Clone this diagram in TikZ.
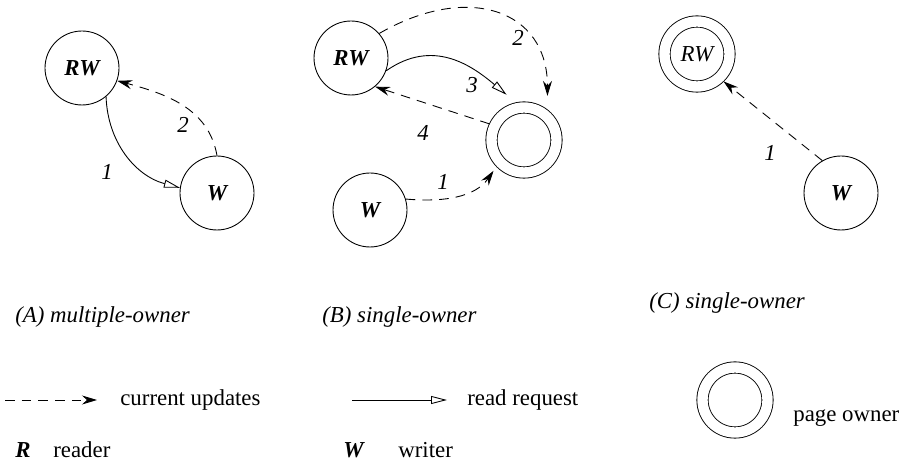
\documentclass[tikz,border=0pt]{standalone}
\usepackage{fontspec}
\setmainfont{Liberation Serif}
\usepackage{tikz}
\usetikzlibrary{arrows.meta,positioning}
\newcommand{\labfont}{\fontsize{13}{16}\selectfont}
\tikzset{
  site/.style={circle,draw,line width=0.5pt,minimum size=1.48cm,inner sep=0pt,font=\labfont\bfseries\itshape},
  owner/.style={circle,draw,line width=0.5pt,double,double distance=5.9pt,minimum size=1.3cm,inner sep=0pt,outer sep=3.2pt,font=\labfont\itshape},
  upd/.style={line width=0.5pt,dash pattern=on 5.5pt off 4pt,-{Stealth[length=3mm,width=1.8mm,inset=1mm]}},
  req/.style={line width=0.5pt,-{Triangle[open,length=3.2mm,width=1.6mm]}},
  num/.style={font=\labfont\itshape},
  captxt/.style={font=\labfont\itshape,anchor=west,inner sep=0pt},
  txt/.style={font=\labfont,anchor=west,inner sep=0pt}
}

\begin{document}
\begin{tikzpicture}[x=0.02cm,y=0.02cm]
\useasboundingbox (0,0) rectangle (903,463);
% (A) every site may own the page
\node[site] (rwA) at (82,395) {RW};
\node[site] (wA) at (217,270) {W};
\draw[req] (rwA.-50) to[out=-88,in=165] (wA.172);
\draw[upd] (wA.90) to[out=100,in=-15] (rwA.-20);
\node[num] at (107,291) {1};
\node[num] at (183,338) {2};
% (B) one owner, reads go through it
\node[site] (rwB) at (351,405) {RW};
\node[owner] (ownB) at (524,323) {};
\node[site] (wB) at (370,253) {W};
\draw[upd,shorten >=3pt] (wB.17) to[out=-5,in=-125] (ownB.-136);
\draw[upd,shorten >=8pt] (rwB.41) to[out=30,in=90,looseness=1.4] (ownB.52);
\draw[req,shorten >=7pt] (rwB.-20) to[out=35,in=140,looseness=1.1] (ownB.102);
\draw[upd] (ownB.155) -- (rwB.-50);
\node[num] at (443,281) {1};
\node[num] at (518,425) {2};
\node[num] at (472,378) {3};
\node[num] at (423,330) {4};
% (C) the reader-writer is the owner
\node[owner] (rwC) at (697,409) {RW};
\node[site] (wC) at (841,270) {W};
\draw[upd] (wC.120) -- (rwC.-46);
\node[num] at (770,310) {1};
% captions
\node[captxt] (capA) at (15,146) {(A) multiple-owner};
\node[captxt] (capB) at (322,146) {(B) single-owner};
\node[captxt] (capC) at (649,160) {(C) single-owner};
% legend
\coordinate (updS) at (5,63);
\coordinate (updE) at (97,63);
\draw[upd] (updS) -- (updE);
\node[txt] (updT) at (120,63) {current updates};
\coordinate (reqS) at (352,63);
\coordinate (reqE) at (447,63);
\draw[req] (reqS) -- (reqE);
\node[txt] (reqT) at (467,63) {read request};
\node[owner] (ownL) at (735,63) {};
\node[txt] (ownT) at (793,45) {page owner};
\node[txt,font=\labfont\bfseries\itshape] (keyR) at (15,13) {R};
\node[txt] (keyRT) at (53,13) {reader};
\node[txt,font=\labfont\bfseries\itshape] (keyW) at (343,13) {W};
\node[txt] (keyWT) at (398,13) {writer};
\end{tikzpicture}
\end{document}
